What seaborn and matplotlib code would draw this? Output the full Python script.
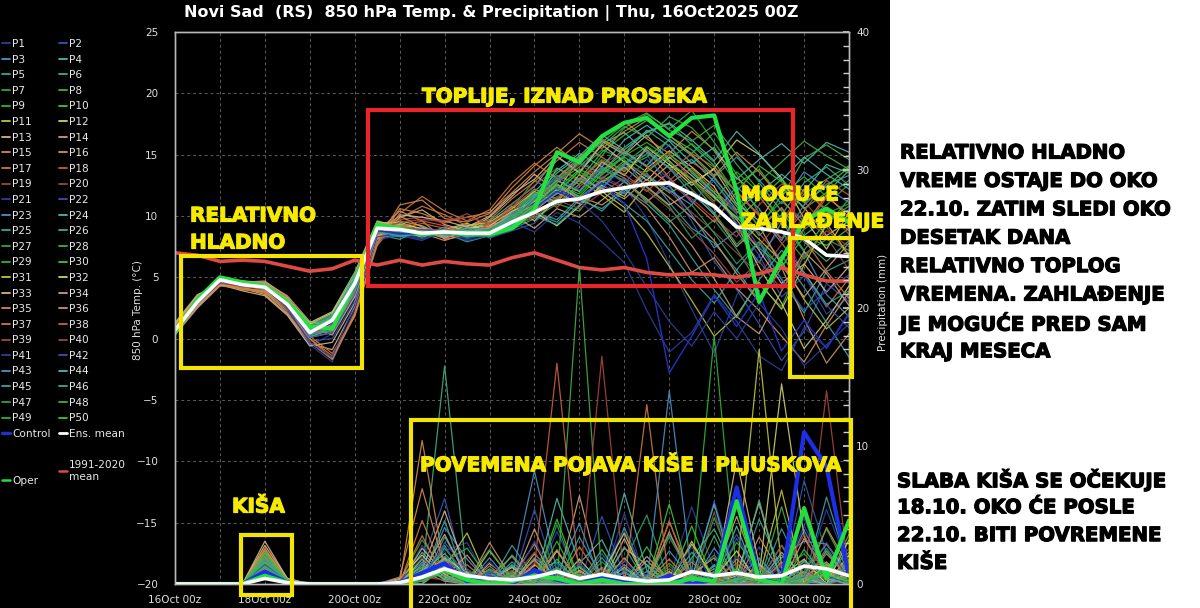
import matplotlib

matplotlib.use("Agg")

import matplotlib.dates as mdates
import matplotlib.patheffects as pe
import matplotlib.pyplot as plt
import pandas as pd
import seaborn as sns
from matplotlib.lines import Line2D
from matplotlib.patches import Rectangle
from matplotlib.ticker import FixedLocator, MultipleLocator

# 12-hourly steps, 16Oct2025 00z .. 31Oct2025 00z
times = pd.date_range("2025-10-16 00:00", "2025-10-31 00:00", freq="12h")
day_ticks = pd.date_range("2025-10-16", "2025-10-30", freq="2D")

member_names = [f"P{i}" for i in range(1, 51)]

# 850 hPa temperature (degC), one row per ensemble member
member_temp = [
    [0.9, 3.2, 4.6, 4.1, 3.8, 2.2, -0.6, 0.4, 4.0, 8.2, 8.4, 8.0, 8.9, 8.1, 8.7, 9.8, 10.6, 12.1, 11.0, 13.2, 12.4, 9.8, 6.1, 2.4, -1.2, 3.5, 6.8, 8.9, 5.2, 2.0, 3.4],
    [0.5, 2.8, 4.9, 4.3, 4.4, 2.6, -0.2, 0.0, 3.1, 8.6, 9.2, 8.8, 8.3, 9.0, 8.2, 8.8, 9.4, 11.5, 13.0, 12.2, 14.1, 15.0, 12.4, 9.6, 6.3, 4.0, 1.2, -1.8, 0.6, 4.5, 3.0],
    [0.7, 3.0, 4.7, 4.5, 4.0, 2.9, 0.6, 1.9, 5.2, 9.3, 8.8, 8.5, 9.1, 8.4, 8.9, 10.2, 11.8, 10.9, 12.6, 14.0, 13.1, 11.2, 12.5, 10.1, 7.4, 8.8, 6.2, 9.5, 7.1, 3.6, 1.8],
    [1.1, 3.3, 4.8, 4.2, 4.3, 3.1, 1.2, 1.6, 4.7, 8.9, 9.4, 8.7, 8.2, 8.8, 9.6, 11.0, 12.4, 14.8, 13.6, 15.9, 16.8, 15.2, 13.9, 14.6, 12.8, 10.5, 11.9, 13.4, 12.0, 14.2, 13.5],
    [0.4, 2.6, 4.4, 4.6, 4.1, 2.5, 0.1, 0.9, 3.8, 8.5, 8.1, 8.9, 8.6, 7.9, 8.4, 9.1, 10.2, 9.5, 11.3, 10.6, 12.0, 13.5, 11.1, 9.0, 7.8, 5.6, 7.9, 4.8, 2.1, 5.5, 6.4],
    [0.8, 3.1, 5.0, 4.4, 4.2, 2.7, 0.4, 1.4, 4.4, 9.1, 8.7, 8.4, 8.8, 9.3, 8.5, 9.6, 11.2, 12.8, 14.3, 13.5, 15.6, 16.9, 17.5, 15.8, 14.1, 11.3, 9.2, 10.6, 8.4, 9.8, 10.5],
    [0.6, 2.9, 4.7, 4.3, 4.5, 3.0, 0.8, 1.7, 4.9, 9.4, 9.0, 8.6, 8.9, 8.5, 9.2, 10.6, 12.9, 11.8, 13.7, 15.4, 14.6, 12.3, 10.8, 8.2, 9.7, 7.3, 4.4, 2.6, 6.9, 8.1, 7.2],
    [0.9, 3.2, 4.9, 4.5, 4.1, 2.8, 0.5, 1.2, 4.2, 8.8, 8.6, 8.3, 8.5, 8.8, 8.3, 8.9, 9.8, 11.0, 10.4, 12.7, 13.9, 14.8, 16.2, 15.1, 16.8, 14.2, 12.1, 9.4, 11.8, 13.0, 14.1],
    [0.5, 2.9, 4.8, 4.4, 4.3, 2.9, 0.7, 1.6, 4.6, 9.2, 9.1, 8.9, 8.7, 8.6, 8.8, 9.9, 11.5, 13.3, 12.6, 14.9, 17.2, 18.3, 17.1, 18.6, 16.0, 13.4, 10.2, 8.7, 6.5, 9.2, 11.4],
    [0.7, 3.1, 4.9, 4.5, 4.2, 3.0, 0.9, 1.8, 4.8, 9.0, 8.8, 8.5, 8.6, 8.7, 8.5, 9.3, 10.7, 12.2, 13.8, 13.0, 14.5, 13.2, 11.9, 12.8, 10.6, 9.1, 7.4, 5.9, 8.3, 7.6, 9.0],
    [1.0, 3.4, 4.6, 4.0, 3.9, 2.4, 0.3, 1.0, 3.9, 8.3, 9.6, 9.2, 8.4, 8.9, 9.4, 10.8, 9.6, 11.4, 12.9, 11.7, 10.3, 12.6, 14.2, 13.0, 11.5, 9.9, 8.1, 6.3, 3.2, 0.8, 2.5],
    [0.6, 2.7, 4.5, 4.7, 4.4, 3.3, 1.3, 2.2, 5.4, 9.6, 9.1, 8.2, 8.9, 9.4, 8.7, 9.0, 10.3, 9.2, 10.8, 12.5, 11.6, 13.9, 15.3, 14.0, 12.4, 9.3, 5.8, 2.9, -0.8, 1.5, 4.3],
    [1.2, 3.5, 4.5, 4.1, 3.6, 2.0, -0.4, -0.9, 2.6, 8.1, 9.9, 10.5, 9.3, 8.8, 9.9, 11.6, 13.4, 12.0, 14.7, 16.1, 15.0, 16.6, 14.5, 12.7, 13.8, 11.0, 9.6, 12.3, 10.7, 8.4, 9.6],
    [0.3, 2.5, 4.3, 4.6, 4.7, 3.4, 1.0, 0.3, 3.4, 8.7, 10.4, 9.6, 8.1, 8.4, 9.0, 10.1, 9.0, 10.6, 9.9, 11.3, 12.8, 11.4, 9.7, 7.6, 4.9, 1.8, 0.4, 3.9, 7.1, 5.3, 2.7],
    [0.9, 3.0, 4.4, 4.2, 3.7, 2.3, 0.0, -1.6, 2.1, 7.9, 10.9, 11.3, 9.8, 9.5, 10.2, 12.3, 14.1, 15.6, 14.2, 16.4, 17.7, 16.3, 15.1, 16.9, 15.4, 13.1, 11.6, 9.3, 12.2, 10.4, 8.8],
    [0.5, 2.8, 4.6, 4.5, 4.6, 3.2, 0.8, 1.1, 4.3, 9.5, 9.3, 8.6, 8.0, 8.6, 9.3, 9.7, 10.8, 12.3, 11.6, 10.9, 12.2, 10.7, 8.3, 5.4, 6.6, 4.1, 2.3, 0.2, -1.9, 1.1, 3.8],
    [1.0, 3.3, 4.5, 4.0, 3.8, 2.6, 0.2, -1.2, 1.8, 7.6, 9.8, 10.8, 10.1, 9.2, 9.7, 11.4, 12.8, 14.5, 16.0, 14.8, 13.6, 15.4, 13.1, 11.2, 9.5, 12.0, 10.1, 7.8, 5.4, 2.6, 4.9],
    [0.7, 3.1, 4.7, 4.3, 4.0, 2.4, 0.4, 0.6, 3.6, 8.4, 8.9, 9.4, 9.0, 8.3, 8.9, 10.4, 11.9, 10.7, 12.4, 13.8, 12.9, 11.1, 12.9, 14.4, 13.2, 10.8, 8.6, 6.4, 9.0, 11.5, 10.2],
    [0.8, 3.0, 4.4, 4.4, 4.2, 2.7, 0.6, 1.3, 4.1, 8.7, 9.7, 9.9, 9.4, 10.2, 9.1, 10.9, 12.5, 13.9, 12.8, 14.2, 15.3, 14.0, 12.6, 11.4, 9.8, 8.3, 10.9, 12.6, 11.2, 9.1, 6.7],
    [0.4, 2.7, 4.5, 4.3, 4.3, 2.8, 0.5, 0.8, 3.9, 8.9, 9.0, 8.8, 8.9, 8.9, 8.4, 9.4, 10.1, 11.6, 11.0, 13.1, 14.3, 13.4, 12.0, 10.3, 8.7, 7.0, 5.2, 7.7, 9.9, 8.3, 5.6],
    [0.6, 2.9, 4.8, 4.4, 4.1, 2.4, -0.5, -1.9, 2.4, 8.0, 8.5, 8.1, 8.6, 8.0, 8.4, 9.5, 8.7, 10.3, 9.4, 7.9, 6.2, 2.3, -1.1, 0.5, 3.6, 1.4, -1.4, -2.6, 0.9, -0.7, 2.1],
    [0.8, 3.1, 4.7, 4.2, 4.2, 2.9, 0.3, 1.0, 4.2, 8.8, 8.4, 9.0, 8.8, 8.5, 9.0, 10.0, 11.1, 13.0, 14.6, 13.3, 15.0, 14.1, 15.8, 13.6, 11.7, 9.4, 6.8, 3.4, 5.1, 2.7, 0.9],
    [0.7, 3.0, 4.6, 4.3, 4.4, 3.1, 0.9, 1.8, 5.0, 9.2, 8.9, 8.7, 8.4, 9.1, 8.8, 9.2, 10.5, 12.4, 11.5, 12.9, 11.8, 13.3, 12.1, 10.9, 13.2, 14.8, 12.9, 11.0, 13.6, 12.3, 11.1],
    [0.5, 2.8, 4.8, 4.5, 4.3, 2.8, 0.6, 1.5, 4.5, 9.0, 8.7, 8.4, 8.7, 8.7, 8.9, 10.3, 12.0, 13.7, 15.1, 14.0, 16.2, 17.4, 16.1, 14.3, 15.6, 13.0, 14.6, 15.9, 14.3, 16.0, 15.2],
    [0.9, 3.2, 4.9, 4.4, 4.0, 2.6, 0.2, 0.7, 3.7, 8.6, 8.3, 8.6, 8.9, 8.2, 8.6, 9.0, 10.0, 9.3, 10.9, 12.3, 11.0, 9.6, 7.2, 4.8, 2.9, 5.6, 3.1, 6.8, 4.2, 1.3, -1.5],
    [0.6, 3.0, 4.7, 4.6, 4.5, 3.2, 1.1, 2.0, 5.3, 9.3, 9.0, 8.8, 8.6, 8.9, 8.7, 9.7, 11.6, 13.1, 14.6, 16.3, 15.1, 17.0, 15.7, 13.5, 11.9, 10.2, 12.7, 10.4, 7.9, 6.3, 8.0],
    [0.7, 3.1, 4.8, 4.3, 4.2, 2.9, 0.7, 1.6, 4.7, 9.1, 8.8, 8.5, 8.8, 8.6, 8.8, 10.1, 12.2, 11.4, 13.0, 14.6, 13.7, 15.1, 14.0, 12.2, 10.3, 7.7, 9.4, 11.2, 9.6, 10.9, 12.6],
    [0.8, 3.1, 4.9, 4.4, 4.3, 3.0, 0.8, 1.7, 4.8, 9.0, 8.9, 8.7, 8.6, 8.8, 8.6, 9.5, 11.0, 12.7, 14.0, 15.7, 17.3, 16.4, 18.1, 17.2, 15.3, 12.6, 13.8, 11.5, 14.7, 15.8, 14.6],
    [0.6, 3.0, 4.8, 4.5, 4.2, 2.9, 0.7, 1.6, 4.6, 9.1, 8.9, 8.6, 8.7, 8.6, 8.7, 9.6, 10.9, 12.5, 11.8, 13.6, 14.9, 16.0, 14.7, 15.9, 14.4, 11.8, 9.0, 11.7, 13.2, 11.6, 12.9],
    [0.7, 3.0, 4.9, 4.5, 4.3, 3.0, 0.8, 1.7, 4.7, 9.0, 8.8, 8.6, 8.7, 8.7, 8.6, 9.4, 10.8, 13.9, 13.0, 15.2, 16.6, 17.8, 16.5, 15.4, 13.7, 12.0, 14.1, 12.8, 10.6, 11.9, 13.7],
    [1.1, 3.3, 4.5, 4.1, 3.9, 2.5, 0.1, 0.5, 3.5, 8.4, 9.3, 9.0, 8.7, 9.2, 9.5, 10.6, 12.0, 11.1, 13.4, 12.0, 10.7, 8.6, 5.9, 3.1, 0.2, 1.9, 4.6, 2.4, 6.0, 9.4, 6.8],
    [0.6, 2.8, 4.6, 4.6, 4.4, 3.2, 1.2, 2.1, 5.1, 9.4, 9.5, 8.9, 8.5, 9.0, 9.2, 10.4, 11.2, 12.9, 12.0, 14.4, 13.3, 15.6, 14.2, 12.5, 13.9, 16.2, 15.0, 13.1, 9.8, 7.3, 10.3],
    [1.3, 3.6, 4.4, 3.9, 3.5, 1.9, -0.6, -0.3, 2.9, 8.2, 10.1, 9.9, 9.6, 9.1, 10.0, 11.8, 13.0, 14.9, 13.5, 15.8, 14.4, 12.9, 14.8, 13.3, 11.6, 9.7, 7.2, 4.5, 6.1, 3.8, 5.9],
    [0.4, 2.6, 4.4, 4.7, 4.6, 3.5, 1.4, 0.9, 3.7, 8.8, 10.0, 9.1, 8.3, 8.5, 9.1, 10.0, 10.9, 12.6, 11.3, 12.8, 14.0, 12.4, 10.9, 12.0, 10.1, 7.5, 9.2, 6.0, 3.4, 5.7, 7.8],
    [1.0, 3.1, 4.3, 4.1, 3.8, 2.1, -0.3, -1.7, 1.9, 7.8, 10.6, 10.2, 9.5, 9.9, 10.3, 11.9, 13.6, 15.1, 16.7, 15.5, 16.9, 18.0, 16.6, 15.0, 13.3, 15.2, 13.6, 11.4, 9.2, 11.7, 9.9],
    [0.5, 2.7, 4.5, 4.4, 4.5, 3.3, 0.9, 1.3, 4.4, 9.4, 9.2, 8.8, 8.2, 8.7, 9.0, 9.8, 10.4, 11.9, 11.0, 12.3, 11.4, 13.0, 11.5, 9.9, 8.0, 5.3, 3.0, 5.8, 1.6, -2.0, 0.4],
    [1.0, 3.3, 4.6, 4.1, 3.9, 2.5, 0.0, -1.4, 2.0, 7.7, 10.2, 11.6, 10.4, 9.6, 10.5, 12.7, 14.3, 13.1, 14.8, 16.2, 15.3, 14.0, 12.6, 13.9, 12.1, 10.4, 8.9, 10.7, 8.1, 5.5, 3.3],
    [0.8, 3.1, 4.6, 4.2, 4.1, 2.6, 0.5, 0.9, 3.8, 8.5, 9.1, 9.6, 9.2, 8.6, 9.3, 10.7, 12.2, 11.3, 12.9, 14.5, 13.4, 12.0, 13.6, 15.1, 14.0, 11.9, 10.0, 8.2, 10.4, 12.9, 11.7],
    [0.7, 2.9, 4.5, 4.3, 4.2, 2.8, 0.6, 1.2, 4.0, 8.8, 9.5, 9.7, 9.6, 9.9, 9.4, 10.5, 11.3, 12.8, 14.2, 13.1, 12.2, 13.7, 15.2, 12.9, 11.0, 8.9, 7.6, 9.7, 12.0, 10.6, 8.5],
    [0.5, 2.8, 4.6, 4.3, 4.3, 2.9, 0.6, 0.9, 4.0, 9.0, 9.1, 8.9, 8.8, 8.9, 8.5, 9.2, 9.9, 11.3, 10.6, 11.9, 13.1, 12.1, 10.6, 8.8, 6.9, 4.6, 6.3, 4.0, 6.7, 8.8, 7.5],
    [0.7, 3.0, 4.7, 4.3, 4.1, 2.5, -0.3, -1.5, 2.8, 8.3, 8.6, 8.2, 8.7, 8.2, 8.5, 9.6, 10.9, 12.3, 11.2, 9.6, 7.1, 4.2, 1.4, -0.6, 2.2, 0.0, 2.9, 0.8, -2.2, -0.5, 1.2],
    [0.6, 2.9, 4.8, 4.3, 4.3, 2.7, 0.1, 0.5, 3.6, 8.7, 8.6, 8.9, 8.7, 8.6, 8.9, 9.8, 11.4, 13.2, 12.1, 13.9, 12.7, 14.6, 13.0, 11.1, 12.9, 10.1, 7.5, 4.9, 2.3, 3.9, 5.2],
    [0.8, 3.1, 4.6, 4.4, 4.3, 3.0, 0.8, 1.7, 4.8, 9.1, 8.8, 8.6, 8.5, 9.0, 8.9, 9.3, 10.6, 11.8, 13.1, 12.3, 14.2, 15.4, 13.9, 11.8, 10.2, 12.4, 10.6, 8.0, 10.9, 12.6, 13.3],
    [0.6, 2.9, 4.7, 4.5, 4.4, 3.0, 0.7, 1.5, 4.5, 9.0, 8.7, 8.5, 8.7, 8.8, 8.8, 10.0, 11.7, 13.5, 14.9, 16.6, 15.4, 16.8, 17.6, 16.2, 14.5, 16.9, 15.1, 12.9, 14.8, 13.4, 12.2],
    [0.8, 3.1, 4.8, 4.4, 4.1, 2.7, 0.3, 0.9, 3.9, 8.7, 8.4, 8.5, 8.8, 8.3, 8.7, 9.2, 10.3, 9.7, 11.5, 10.4, 12.2, 11.0, 9.3, 6.6, 4.0, 1.7, 4.8, 7.2, 5.4, 2.8, 3.9],
    [0.7, 3.0, 4.8, 4.5, 4.4, 3.1, 1.0, 1.9, 5.1, 9.2, 8.9, 8.7, 8.7, 9.0, 8.8, 9.8, 11.5, 12.9, 12.0, 13.7, 15.2, 14.1, 16.3, 14.9, 13.1, 10.8, 8.4, 10.1, 12.7, 14.0, 12.5],
    [0.6, 2.9, 4.7, 4.4, 4.3, 2.9, 0.6, 1.5, 4.6, 9.1, 8.8, 8.6, 8.7, 8.5, 8.9, 10.0, 11.9, 11.0, 12.6, 13.9, 12.8, 11.3, 9.5, 10.9, 8.6, 6.1, 7.9, 5.7, 8.9, 10.2, 11.0],
    [0.9, 3.2, 4.9, 4.4, 4.2, 2.9, 0.7, 1.6, 4.7, 9.0, 8.8, 8.6, 8.6, 8.7, 8.7, 9.6, 11.3, 12.9, 14.4, 16.0, 17.5, 18.4, 17.0, 16.1, 17.4, 15.0, 12.8, 14.4, 16.1, 14.9, 13.8],
    [0.6, 2.9, 4.8, 4.4, 4.3, 2.9, 0.6, 1.5, 4.5, 9.0, 8.9, 8.6, 8.6, 8.6, 8.8, 9.4, 10.7, 12.0, 13.6, 12.6, 14.3, 15.7, 14.4, 13.0, 11.2, 13.6, 11.9, 9.8, 7.2, 9.6, 10.8],
    [0.7, 3.0, 4.9, 4.5, 4.3, 3.0, 0.8, 1.7, 4.7, 9.0, 8.8, 8.6, 8.7, 8.7, 8.6, 9.5, 10.9, 12.6, 11.6, 13.4, 14.8, 13.6, 15.0, 13.7, 11.9, 9.7, 11.4, 13.0, 11.1, 12.4, 14.0],
]

# precipitation (mm), one row per ensemble member
member_precip = [
    [0, 0, 0, 0, 0.8, 0.1, 0, 0, 0, 0, 0, 0.6, 2.4, 3.0, 0, 1.2, 0, 3.8, 0.4, 0, 5.1, 0, 0.3, 5.6, 1.0, 0, 2.7, 0.5, 4.2, 1.3, 0],
    [0, 0, 0, 0, 1.2, 0.2, 0, 0, 0, 0, 0.3, 1.5, 6.2, 0, 0.8, 0, 5.4, 0.3, 0, 4.9, 0.6, 0, 0, 1.8, 0, 3.3, 0.4, 0, 7.5, 2.2, 0.6],
    [0, 0, 0, 0, 2.2, 0.3, 0, 0, 0, 0, 0, 0.4, 4.1, 1.8, 0, 0.5, 8.2, 0.9, 0, 0, 1.4, 0, 0.2, 0, 2.6, 0.4, 0, 1.9, 3.1, 2.9, 0.8],
    [0, 0, 0, 0, 0.4, 0, 0, 0, 0, 0, 0, 2.3, 0.6, 0, 1.1, 0.2, 0, 6.2, 1.5, 3.2, 0, 0.9, 0, 0.3, 0, 4.2, 0, 0.6, 0, 2.4, 0.3],
    [0, 0, 0, 0, 1.6, 0.2, 0, 0, 0, 0, 0.1, 0, 3.4, 0.7, 0, 2.8, 0.5, 2.4, 0, 1.9, 0, 0.4, 3.6, 0.8, 0, 0, 4.7, 1.1, 0.2, 6.3, 1.0],
    [0, 0, 0, 0, 0.9, 0.1, 0, 0, 0, 0, 0, 0.8, 15.8, 0.4, 0, 0.3, 1.7, 0, 0.6, 0, 4.1, 0.2, 0, 2.3, 0.5, 0, 1.4, 0, 0.9, 0, 3.6],
    [0, 0, 0, 0, 1.4, 0.2, 0, 0, 0, 0, 0.2, 3.2, 0.9, 0, 0, 0.6, 0, 4.3, 0, 0.8, 1.6, 5.0, 0.1, 0, 4.8, 0.6, 0, 0.9, 2.2, 0.4, 0],
    [0, 0, 0, 0, 0.6, 0, 0, 0, 0, 0, 0, 0.5, 1.6, 2.6, 0.3, 0, 0.8, 0, 23.0, 0.5, 0, 0, 1.1, 0, 3.5, 0, 0.7, 0, 0, 1.5, 0.2],
    [0, 0, 0, 0, 1.1, 0.1, 0, 0, 0, 0, 0, 1.9, 0.4, 0, 0.9, 0, 0.3, 1.2, 0, 0, 0.5, 0, 0, 0.8, 18.0, 0.7, 0, 0.4, 1.6, 0, 0.6],
    [0, 0, 0, 0, 1.8, 0.3, 0, 0, 0, 0, 0.1, 0.3, 2.8, 0, 0.4, 1.3, 0, 0.6, 0, 2.5, 0, 0, 5.8, 0, 1.3, 0, 0.2, 2.8, 0, 0.9, 4.4],
    [0, 0, 0, 0, 0.7, 0, 0, 0, 0, 0, 0, 0, 1.2, 3.7, 0, 0, 2.2, 0.3, 0, 0, 2.6, 1.4, 0, 0.5, 0, 0.8, 17.0, 1.2, 0, 0.4, 0.5],
    [0, 0, 0, 0, 1.3, 0.2, 0, 0, 0, 0, 0.4, 2.1, 0.3, 0, 1.5, 0.2, 0, 0, 1.8, 0, 0, 0.3, 0, 2.9, 0.4, 0, 0.6, 14.5, 3.5, 0.4, 0.4],
    [0, 0, 0, 0, 3.1, 0.4, 0, 0, 0, 0, 0, 1.0, 5.3, 0.8, 0, 0.6, 0, 2.4, 0.2, 0, 3.3, 0, 0, 0.4, 0, 9.0, 1.4, 0, 0.8, 0, 2.1],
    [0, 0, 0, 0, 2.0, 0.2, 0, 0, 0, 0, 0.2, 0.6, 1.8, 0, 0.9, 0, 4.0, 0, 6.4, 0, 0, 1.7, 0.2, 0, 0.9, 0, 0, 2.3, 0.4, 1.1, 0],
    [0, 0, 0, 0, 2.4, 0.3, 0, 0, 0, 0, 0, 10.4, 1.1, 0, 0.5, 2.0, 0, 0.3, 0, 1.2, 0, 0, 4.5, 0.6, 0, 1.8, 0.3, 0, 0.6, 2.9, 0.5],
    [0, 0, 0, 0, 1.5, 0.1, 0, 0, 0, 0, 0.3, 0.9, 0.2, 0, 3.0, 0.4, 0, 0, 0.7, 0, 1.9, 0, 3.8, 0.2, 1.1, 0, 3.4, 0.7, 0, 1.2, 0],
    [0, 0, 0, 0, 2.6, 0.3, 0, 0, 0, 0, 0, 4.6, 0.7, 1.4, 0, 0, 0.9, 0, 2.7, 0.3, 0, 0.5, 0, 1.6, 0, 0.4, 0, 0.9, 5.1, 0, 1.8],
    [0, 0, 0, 0, 1.0, 0.1, 0, 0, 0, 0, 0.1, 0.4, 2.0, 0, 0.6, 0, 1.3, 16.0, 0.4, 0, 0.2, 0, 0.8, 0, 0.3, 1.5, 0, 0, 1.4, 0.3, 0],
    [0, 0, 0, 0, 0.5, 0, 0, 0, 0, 0, 0, 1.3, 0.5, 0, 0.2, 1.0, 0, 0.4, 0, 16.5, 0.3, 0, 0, 0.6, 0, 0.2, 1.0, 0, 0.3, 14.0, 0.7],
    [0, 0, 0, 0, 0.8, 0.1, 0, 0, 0, 0, 0.2, 0.7, 1.4, 0.3, 0, 0.4, 2.3, 0, 0.2, 0.6, 0, 0, 1.3, 0, 5.2, 0, 0.2, 1.4, 0, 0.6, 0.2],
    [0, 0, 0, 0, 0.7, 0.1, 0, 0, 0, 0, 0, 2.8, 0.6, 0, 1.6, 0, 0.5, 0, 0, 0.9, 3.9, 0.4, 0, 1.2, 0, 2.0, 0.6, 0, 0.5, 5.4, 1.1],
    [0, 0, 0, 0, 1.9, 0.2, 0, 0, 0, 0, 0.3, 0, 3.0, 1.1, 0, 0.8, 0, 0.2, 1.5, 0, 0, 0.7, 0, 0.3, 6.0, 0.5, 0, 1.3, 0, 0.4, 2.6],
    [0, 0, 0, 0, 1.3, 0.2, 0, 0, 0, 0, 0, 1.6, 0.3, 0, 0.7, 0, 1.9, 0.6, 4.4, 0, 0.8, 0, 2.4, 0.4, 0, 0.9, 0, 0.3, 3.9, 0.8, 0],
    [0, 0, 0, 0, 0.5, 0, 0, 0, 0, 0, 0.1, 0.9, 2.2, 0.5, 0, 1.4, 0, 0.8, 0, 0.3, 6.6, 1.0, 0, 0, 0.6, 0, 1.5, 0, 0.2, 0, 0.9],
    [0, 0, 0, 0, 1.7, 0.2, 0, 0, 0, 0, 0, 0.3, 4.6, 0, 0.2, 0, 0.9, 1.6, 0, 0, 2.7, 0, 0.5, 0, 1.4, 0.2, 0, 4.0, 0.7, 0, 1.6],
    [0, 0, 0, 0, 1.0, 0.1, 0, 0, 0, 0, 0.2, 1.2, 0.4, 0, 0, 2.1, 0.3, 0, 0.7, 0, 0, 0.4, 0, 1.9, 4.0, 0.6, 0, 0.2, 1.2, 0, 0.4],
    [0, 0, 0, 0, 2.1, 0.3, 0, 0, 0, 0, 0, 0.7, 1.3, 0.2, 1.0, 0, 0.6, 0, 0, 1.6, 0.3, 0, 3.4, 0.5, 2.1, 0, 0.8, 0, 0, 2.6, 0.3],
    [0, 0, 0, 0, 0.6, 0.1, 0, 0, 0, 0, 0, 0.2, 0.8, 0.4, 0, 0.5, 0, 0.3, 1.3, 0, 0.2, 0, 0.4, 0, 0, 0.9, 0, 5.6, 0, 0.7, 0],
    [0, 0, 0, 0, 1.5, 0.2, 0, 0, 0, 0, 0.1, 0.6, 1.7, 0, 0.5, 0, 1.1, 0, 0.4, 0.8, 0, 0, 1.5, 0, 0.3, 3.0, 1.2, 0, 0.6, 0, 1.7],
    [0, 0, 0, 0, 2.3, 0.3, 0, 0, 0, 0, 0, 0.4, 2.6, 0.6, 0, 0.9, 0, 1.8, 0, 0.2, 0, 0.6, 0, 4.2, 0, 1.1, 0.2, 0, 2.5, 0.4, 0],
    [0, 0, 0, 0, 1.2, 0.1, 0, 0, 0, 0, 0, 1.8, 0.5, 0, 2.4, 0.3, 0, 0, 1.0, 0, 0.4, 0, 0, 3.1, 0.2, 0, 0.5, 6.8, 0, 1.4, 0.5],
    [0, 0, 0, 0, 0.9, 0.1, 0, 0, 0, 0, 0.3, 0.5, 1.9, 0.8, 0, 0, 1.4, 0.2, 0, 0.7, 3.7, 0, 0.9, 0, 0.4, 2.4, 0, 0.6, 1.8, 0, 3.2],
    [0, 0, 0, 0, 2.8, 0.4, 0, 0, 0, 0, 0, 2.6, 0.7, 0, 0.3, 1.2, 0, 0.5, 0, 0, 1.2, 0, 0, 0.2, 0, 0.6, 5.9, 0, 0.4, 0, 0.8],
    [0, 0, 0, 0, 1.6, 0.2, 0, 0, 0, 0, 0.1, 0.8, 3.6, 0.4, 0, 0.2, 0, 1.0, 0.3, 0, 0, 2.0, 0.3, 0, 0.6, 4.9, 0.4, 0, 3.3, 0.9, 0],
    [0, 0, 0, 0, 2.5, 0.3, 0, 0, 0, 0, 0.5, 6.9, 1.2, 0, 0.6, 0, 1.8, 0, 0, 0.4, 0, 0.2, 1.8, 0, 0.3, 0, 0, 1.6, 0, 4.1, 1.2],
    [0, 0, 0, 0, 1.1, 0.1, 0, 0, 0, 0, 0, 1.0, 0.5, 2.1, 0, 0.5, 2.9, 0, 0.9, 0, 0.6, 0, 0, 0.7, 1.9, 0, 0.3, 0, 0.5, 1.6, 0],
    [0, 0, 0, 0, 2.0, 0.2, 0, 0, 0, 0, 0.2, 3.5, 0.4, 0, 1.3, 0, 0.2, 2.5, 0, 0.3, 0, 13.0, 0, 0, 0.3, 0.7, 0, 0.3, 0, 2.2, 0.4],
    [0, 0, 0, 0, 0.7, 0, 0, 0, 0, 0, 0, 0.6, 1.0, 0.3, 0, 0.7, 0, 0.4, 0, 1.1, 0.2, 0, 4.6, 0, 0.2, 0, 1.3, 0, 0.8, 0, 0.6],
    [0, 0, 0, 0, 0.6, 0.1, 0, 0, 0, 0, 0.1, 0.3, 0.9, 0, 0.4, 0, 1.5, 0, 0.3, 0, 0, 0.6, 0, 0.9, 0, 0.4, 0, 0.7, 3.6, 0.3, 1.0],
    [0, 0, 0, 0, 0.9, 0.1, 0, 0, 0, 0, 0, 0.5, 0.3, 1.0, 0, 0.3, 0, 0.8, 0, 0.5, 0, 0, 0.3, 0, 0.6, 0, 0.2, 2.8, 1.1, 0, 0.4],
    [0, 0, 0, 0, 1.4, 0.2, 0, 0, 0, 0, 0.2, 1.9, 0.4, 0, 0.9, 0, 3.1, 0.3, 0, 0, 1.7, 0, 0.4, 2.7, 0, 0.5, 0, 1.0, 4.8, 0.6, 0],
    [0, 0, 0, 0, 1.0, 0.1, 0, 0, 0, 0, 0, 0.6, 2.7, 0.5, 0, 0.4, 0, 1.5, 0, 2.2, 0, 0.3, 0, 0, 0.8, 3.6, 0.3, 0, 0.5, 3.0, 0.2],
    [0, 0, 0, 0, 1.8, 0.2, 0, 0, 0, 0, 0.1, 0.4, 1.3, 0, 1.9, 0, 0.6, 0, 0.2, 0, 0.9, 0, 14.0, 0.6, 0, 0.3, 1.9, 0, 0.6, 0, 1.4],
    [0, 0, 0, 0, 0.8, 0.1, 0, 0, 0, 0, 0, 1.4, 0.3, 0.9, 0, 0.6, 0, 0.3, 1.2, 0, 0, 0.5, 0, 0.4, 5.8, 0, 0.8, 0, 1.7, 0.4, 0],
    [0, 0, 0, 0, 1.3, 0.2, 0, 0, 0, 0, 0.2, 0, 2.0, 0.4, 0, 1.6, 0.2, 0, 3.4, 0.5, 1.1, 0, 0.2, 0, 0.9, 0, 0.3, 2.1, 0, 0.8, 2.3],
    [0, 0, 0, 0, 1.9, 0.3, 0, 0, 0, 0, 0, 0.7, 0.6, 0, 0.4, 0, 0.5, 1.1, 0, 0.3, 0, 1.3, 0, 0.5, 0, 0.2, 6.1, 0, 0.9, 0, 0.5],
    [0, 0, 0, 0, 1.2, 0.1, 0, 0, 0, 0, 0.1, 0.9, 1.5, 0.3, 2.5, 0.3, 1.0, 0, 0.6, 0, 0.4, 0, 0, 1.0, 0.3, 0, 1.1, 0.2, 0, 1.2, 0],
    [0, 0, 0, 0, 0.5, 0, 0, 0, 0, 0, 0, 0.2, 1.1, 0, 0.3, 0, 0.4, 0, 0, 0.6, 0, 0.2, 0.5, 0, 0, 0.4, 0, 0.3, 0.6, 4.0, 0.8],
    [0, 0, 0, 0, 1.6, 0.2, 0, 0, 0, 0, 0.2, 0.5, 0.9, 0.6, 0, 0.8, 0, 3.1, 0, 0.2, 0.5, 0, 0.7, 0, 0.4, 1.0, 0, 0.5, 0, 1.3, 0.3],
    [0, 0, 0, 0, 2.2, 0.3, 0, 0, 0, 0, 0, 1.1, 0.4, 0, 0.6, 0.2, 0, 4.7, 0.3, 0, 0, 2.7, 0, 0.6, 0, 0.3, 0.8, 0, 0.4, 0.7, 0.2],
]

control_temp = [0.6, 2.9, 4.7, 4.3, 4.2, 2.8, 0.5, 1.3, 4.3, 8.8, 8.6, 8.5, 8.7, 8.5, 8.6, 9.4, 10.6, 12.0, 11.3, 12.7, 11.0, 6.5, -2.8, 0.2, 3.5, 1.0, 3.8, -1.0, 1.5, -0.8, 2.0]
control_precip = [0, 0, 0, 0, 0.9, 0.1, 0, 0, 0, 0, 0.1, 0.8, 1.5, 0.2, 0.5, 0, 1.0, 0.3, 0, 0.5, 0.2, 0, 0.6, 0, 0.3, 7.0, 0.4, 0, 11.0, 8.5, 0.5]
oper_temp = [0.5, 3.2, 5.0, 4.6, 4.3, 3.0, 1.0, 0.8, 4.5, 9.3, 9.0, 8.5, 8.7, 8.5, 8.5, 9.0, 10.5, 15.2, 14.4, 16.5, 17.6, 18.0, 16.5, 18.0, 18.2, 12.0, 3.0, 6.5, 9.6, 10.6, 9.5]
oper_precip = [0, 0, 0, 0, 0.6, 0.1, 0, 0, 0, 0, 0, 0.5, 1.0, 0.3, 0, 0.2, 0.6, 0.4, 0, 0.3, 0, 0, 0, 0.4, 0.2, 6.0, 0.3, 0, 5.5, 0.4, 4.6]
mean_temp = [0.7, 3.0, 4.8, 4.4, 4.2, 2.8, 0.5, 1.5, 4.5, 9.0, 8.9, 8.6, 8.7, 8.6, 8.6, 9.5, 10.3, 11.2, 11.4, 12.0, 12.3, 12.6, 12.7, 11.8, 10.8, 9.1, 9.0, 8.7, 8.2, 6.8, 6.7]
mean_precip = [0, 0, 0, 0, 0.4, 0.1, 0, 0, 0, 0, 0.1, 0.5, 1.1, 0.6, 0.4, 0.3, 0.5, 0.9, 0.4, 0.7, 0.4, 0.2, 0.3, 0.9, 0.6, 0.8, 0.5, 0.6, 1.3, 1.1, 0.6]
clim_temp = [7.0, 6.8, 6.3, 6.4, 6.3, 5.9, 5.5, 5.7, 6.4, 6.0, 6.4, 6.0, 6.3, 6.1, 6.0, 6.6, 7.0, 6.4, 5.8, 5.6, 5.8, 5.4, 5.2, 5.3, 5.2, 5.0, 5.3, 5.8, 5.2, 4.7, 4.7]

# member colours repeat every 20 members
cycle_colors = [
    "#2b3f9e", "#3453b3", "#4d8fc6", "#4cb8ae", "#3aa4a0", "#3fae82", "#2f9f58", "#45ad47", "#2fb52f", "#3cc43c",
    "#c4c43e", "#d0d06a", "#d4b48a", "#c9a07c", "#d4884a", "#c99468", "#d07838", "#c8603f", "#a8443f", "#904a4a",
]
palette = {name: cycle_colors[i % 20] for i, name in enumerate(member_names)}

W, H = 1200, 608


def fx(px):
    return px / W


def fy(py):
    return 1 - py / H


frames = [
    pd.DataFrame({"time": times, "member": name, "temp": t, "precip": p})
    for name, t, p in zip(member_names, member_temp, member_precip)
]
members = pd.concat(frames, ignore_index=True)

sns.set_theme(style="ticks", rc={"axes.facecolor": "black", "figure.facecolor": "black"})
plt.rcParams["font.family"] = ["DejaVu Sans"]

fig = plt.figure(figsize=(W / 100, H / 100), dpi=100)
fig.add_artist(Rectangle((fx(890), 0), 1 - fx(890), 1, transform=fig.transFigure,
                         facecolor="white", edgecolor="none", zorder=0))

ax = fig.add_axes([fx(175), fy(584), fx(849 - 175), (584 - 32) / H])
ax.set_facecolor("black")

sns.lineplot(data=members, x="time", y="temp", hue="member", hue_order=member_names, palette=palette,
             linewidth=0.9, alpha=0.9, legend=False, errorbar=None, ax=ax)
sns.lineplot(x=times, y=control_temp, color="#2232c0", linewidth=1.0, ax=ax)
sns.lineplot(x=times, y=clim_temp, color="#e04a44", linewidth=2.6, ax=ax)
sns.lineplot(x=times, y=oper_temp, color="#22e040", linewidth=3.0, ax=ax)
sns.lineplot(x=times, y=mean_temp, color="white", linewidth=2.6, ax=ax)

ax.set_xlim(times[0], times[-1])
ax.set_ylim(-20, 25)
ax.set_yticks(range(-20, 26, 5))
ax.xaxis.set_major_locator(FixedLocator(mdates.date2num(day_ticks)))
ax.xaxis.set_major_formatter(mdates.DateFormatter("%d%b %Hz"))
ax.xaxis.set_minor_locator(mdates.DayLocator())
ax.grid(which="both", axis="x", color="#5c5c5c", linestyle=(0, (3, 3)), linewidth=0.7)
ax.grid(which="major", axis="y", color="#5c5c5c", linestyle=(0, (3, 3)), linewidth=0.7)
ax.tick_params(axis="both", which="both", length=0, labelcolor="#e0e0e0", labelsize=7.5)
ax.tick_params(axis="y", pad=12)
ax.tick_params(axis="x", pad=8)
ax.set_xlabel("")
ax.set_ylabel("850 hPa Temp. (°C)", color="#e0e0e0", fontsize=7.5)
ax.yaxis.set_label_coords((143 - 175) / 674, (584 - 310) / 552)

ax2 = ax.twinx()
sns.lineplot(data=members, x="time", y="precip", hue="member", hue_order=member_names, palette=palette,
             linewidth=0.9, alpha=0.9, legend=False, errorbar=None, ax=ax2)
sns.lineplot(x=times, y=control_precip, color="#1c2fe8", linewidth=3.0, ax=ax2)
sns.lineplot(x=times, y=oper_precip, color="#22e040", linewidth=3.0, ax=ax2)
sns.lineplot(x=times, y=mean_precip, color="white", linewidth=2.6, ax=ax2)
ax2.set_xlim(times[0], times[-1])
ax2.set_ylim(0, 40)
ax2.yaxis.set_major_locator(MultipleLocator(10))
ax2.yaxis.set_minor_locator(MultipleLocator(1))
ax2.tick_params(axis="y", which="both", direction="in", length=4, color="#cfcfcf",
                labelcolor="#e0e0e0", labelsize=7.5, pad=5)
ax2.set_ylabel("Precipitation (mm)", color="#e0e0e0", fontsize=7.5)
ax2.yaxis.set_label_coords((878 - 175) / 674, (584 - 302) / 552)

for a in (ax, ax2):
    for spine in a.spines.values():
        spine.set_color("#b8b8b8")
        spine.set_linewidth(1.0)

fig.text(fx(491), fy(13), "Novi Sad  (RS)  850 hPa Temp. & Precipitation | Thu, 16Oct2025 00Z",
         ha="center", va="center", fontsize=11.5, weight="bold", color="white")


# legend: two columns, odd members left, even members right
def member_handle(name):
    return Line2D([], [], color=palette[name], linewidth=1.3)


blank = Line2D([], [], color="none")
col1 = [(member_handle(n), n) for n in member_names[0::2]]
col1 += [(Line2D([], [], color="#2232c0", linewidth=2.5), "Control"), (blank, " "), (blank, " "),
         (Line2D([], [], color="#22e040", linewidth=1.8), "Oper")]
col2 = [(member_handle(n), n) for n in member_names[1::2]]
col2 += [(Line2D([], [], color="white", linewidth=2.0), "Ens. mean"), (blank, " "),
         (Line2D([], [], color="#e04a44", linewidth=1.8), "1991-2020\nmean")]
entries = col1 + col2
fig.legend([h for h, _ in entries], [l for _, l in entries], loc="upper left",
           bbox_to_anchor=(fx(2), fy(39)), ncol=2, frameon=False, fontsize=7.6,
           handlelength=0.8, handletextpad=0.15, columnspacing=0.8, labelspacing=0.53,
           borderpad=0, borderaxespad=0, labelcolor="#e8e8e8")

# overlay annotation boxes (pixel rectangles: x0, y0, x1, y1)
boxes = [
    ((181, 256, 362, 368), "#f2e600"),
    ((368, 110, 793, 286), "#e8262a"),
    ((790, 238, 852, 377), "#f2e600"),
    ((241, 535, 292, 595), "#f2e600"),
    ((411, 420, 851, 620), "#f2e600"),
]
for (x0, y0, x1, y1), col in boxes:
    fig.add_artist(Rectangle((fx(x0), fy(y1)), (x1 - x0) / W, (y1 - y0) / H, transform=fig.transFigure,
                             fill=False, edgecolor=col, linewidth=3.0, zorder=4))

chart_notes = [
    (190, 216, "RELATIVNO"),
    (190, 243, "HLADNO"),
    (422, 97, "TOPLIJE, IZNAD PROSEKA"),
    (741, 195, "MOGUĆE"),
    (741, 222, "ZAHLAĐENJE"),
    (232, 507, "KIŠA"),
    (420, 464, "POVEMENA POJAVA KIŠE I PLJUSKOVA"),
]
yellow = "#f5ea00"
for x, y, s in chart_notes:
    fig.text(fx(x), fy(y), s, ha="left", va="center", fontsize=14.4, weight="bold", color=yellow, zorder=5,
             path_effects=[pe.withStroke(linewidth=0.9, foreground=yellow)])

side_text_1 = [
    "RELATIVNO HLADNO",
    "VREME OSTAJE DO OKO",
    "22.10. ZATIM SLEDI OKO",
    "DESETAK DANA",
    "RELATIVNO TOPLOG",
    "VREMENA. ZAHLAĐENJE",
    "JE MOGUĆE PRED SAM",
    "KRAJ MESECA",
]
side_text_2 = [
    "SLABA KIŠA SE OČEKUJE",
    "18.10. OKO ĆE POSLE",
    "22.10. BITI POVREMENE",
    "KIŠE",
]
heavy = [pe.withStroke(linewidth=0.9, foreground="black")]
for i, s in enumerate(side_text_1):
    fig.text(fx(900), fy(153 + i * 28.4), s, ha="left", va="center", fontsize=14.2, weight="bold",
             color="black", path_effects=heavy)
for i, s in enumerate(side_text_2):
    fig.text(fx(897), fy(480 + i * 27.8), s, ha="left", va="center", fontsize=14.2, weight="bold",
             color="black", path_effects=heavy)

fig.savefig("out.png", dpi=100, facecolor="black")
